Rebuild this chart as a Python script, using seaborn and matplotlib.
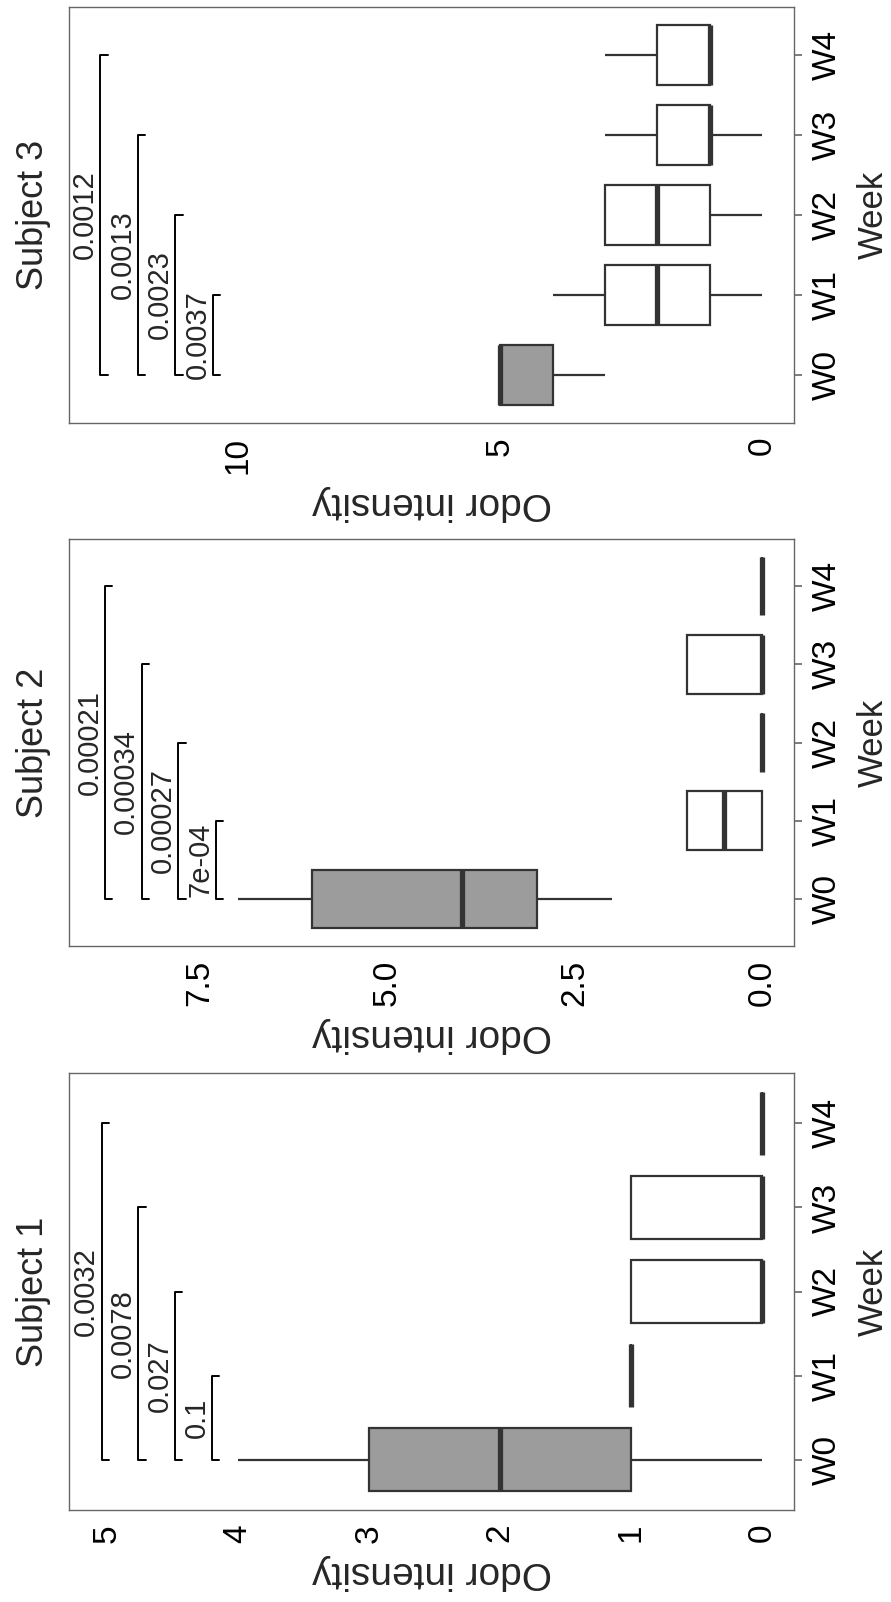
import pandas as pd
import numpy as np
import matplotlib
matplotlib.use('Agg')
import matplotlib.pyplot as plt
import seaborn as sns

# Odor intensity scores, 10 assessments per week and subject
weeks = ['W0', 'W1', 'W2', 'W3', 'W4']

s1_w0 = [0, 1, 1, 1, 2, 2, 3, 3, 3, 4]
s1_w1 = [1, 1, 1, 1, 1, 1, 1, 1, 1, 1]
s1_w2 = [0, 0, 0, 0, 0, 0, 1, 1, 1, 1]
s1_w3 = [0, 0, 0, 0, 0, 0, 1, 1, 1, 1]
s1_w4 = [0, 0, 0, 0, 0, 0, 0, 0, 0, 0]

s2_w0 = [2, 3, 3, 3, 4, 4, 6, 6, 6, 7]
s2_w1 = [0, 0, 0, 0, 0, 1, 1, 1, 1, 1]
s2_w2 = [0, 0, 0, 0, 0, 0, 0, 0, 0, 0]
s2_w3 = [0, 0, 0, 0, 0, 0, 1, 1, 1, 1]
s2_w4 = [0, 0, 0, 0, 0, 0, 0, 0, 0, 0]

s3_w0 = [3, 4, 4, 4, 5, 5, 5, 5, 5, 5]
s3_w1 = [0, 1, 1, 1, 2, 2, 3, 3, 3, 4]
s3_w2 = [0, 1, 1, 1, 2, 2, 3, 3, 3, 3]
s3_w3 = [0, 1, 1, 1, 1, 1, 2, 2, 2, 3]
s3_w4 = [1, 1, 1, 1, 1, 1, 2, 2, 2, 3]

# p-values W0 vs W1..W4 and the height of each bracket
s1_pvals = ['0.1', '0.027', '0.0078', '0.0032']
s2_pvals = ['7e-04', '0.00027', '0.00034', '0.00021']
s3_pvals = ['0.0037', '0.0023', '0.0013', '0.0012']
s1_levels = [4.2, 4.48, 4.76, 5.04]
s2_levels = [7.29, 7.79, 8.28, 8.77]
s3_levels = [10.48, 11.2, 11.91, 12.63]

s1_ticks, s1_ticklabels = [0, 1, 2, 3, 4, 5], ['0', '1', '2', '3', '4', '5']
s2_ticks, s2_ticklabels = [0, 2.5, 5, 7.5], ['0.0', '2.5', '5.0', '7.5']
s3_ticks, s3_ticklabels = [0, 5, 10], ['0', '5', '10']


def make_df(groups):
    rows = []
    for wk, vals in zip(weeks, groups):
        rows += [{'week': wk, 'intensity': v} for v in vals]
    return pd.DataFrame(rows)


panels = [
    dict(name='Subject 1', df=make_df([s1_w0, s1_w1, s1_w2, s1_w3, s1_w4]),
         pvals=s1_pvals, levels=s1_levels, ticks=s1_ticks, labels=s1_ticklabels,
         xlim=(5.29, -0.244), rect=[69/891, 1 - 1510/1602, 725/891, 437/1602]),
    dict(name='Subject 2', df=make_df([s2_w0, s2_w1, s2_w2, s2_w3, s2_w4]),
         pvals=s2_pvals, levels=s2_levels, ticks=s2_ticks, labels=s2_ticklabels,
         xlim=(9.25, -0.43), rect=[69/891, 1 - 946/1602, 725/891, 407/1602]),
    dict(name='Subject 3', df=make_df([s3_w0, s3_w1, s3_w2, s3_w3, s3_w4]),
         pvals=s3_pvals, levels=s3_levels, ticks=s3_ticks, labels=s3_ticklabels,
         xlim=(13.23, -0.61), rect=[69/891, 1 - 423/1602, 725/891, 416/1602]),
]

sns.set_style('white')
plt.rcParams['font.family'] = ['Liberation Sans', 'DejaVu Sans']

ink = '#333333'
fill = {'W0': '#9c9c9c', 'W1': 'white', 'W2': 'white', 'W3': 'white', 'W4': 'white'}

fig = plt.figure(figsize=(8.91, 16.02), dpi=100)

for p in panels:
    ax = fig.add_axes(p['rect'])
    sns.boxplot(data=p['df'], x='intensity', y='week', hue='week', order=weeks,
                hue_order=weeks, palette=fill, legend=False, orient='h', width=0.75,
                linecolor=ink, linewidth=1.6, showcaps=False, whis=1.5, fliersize=0,
                medianprops=dict(linewidth=3.8, color=ink), ax=ax)

    # significance brackets W0 vs Wk
    span = abs(p['xlim'][0] - p['xlim'][1])
    tl = 0.01 * span
    for k, (lvl, pv) in enumerate(zip(p['levels'], p['pvals']), start=1):
        ax.plot([lvl, lvl], [0, k], color='black', lw=1.4, solid_capstyle='butt')
        ax.plot([lvl, lvl - tl], [0, 0], color='black', lw=1.4)
        ax.plot([lvl, lvl - tl], [k, k], color='black', lw=1.4)
        ax.annotate(pv, xy=(lvl, k / 2), xytext=(-1, 0), textcoords='offset points',
                    rotation=90, ha='right', va='center', fontsize=21)

    ax.set_xlim(*p['xlim'])
    ax.set_ylim(-0.6, 4.6)
    ax.set_xticks(p['ticks'])
    ax.set_xticklabels(p['labels'], rotation=90)
    ax.yaxis.tick_right()
    ax.yaxis.set_label_position('right')
    ax.set_yticks(range(len(weeks)))
    ax.set_yticklabels(weeks, rotation=90, va='center')
    ax.tick_params(axis='both', length=6, width=1.2, color='#666666', pad=4,
                   labelsize=24, labelcolor='black')
    ax.tick_params(axis='y', pad=7)
    ax.set_xlabel('Odor intensity', rotation=180, fontsize=28, labelpad=8)
    ax.set_ylabel('Week', rotation=90, fontsize=25, labelpad=10)
    for s in ax.spines.values():
        s.set_color('#666666')
        s.set_linewidth(1.0)

    ax.annotate(p['name'], xy=(0, 0.5), xycoords='axes fraction', xytext=(-13, 0),
                textcoords='offset points', rotation=90, ha='right', va='center',
                fontsize=26)

fig.savefig('out.png', dpi=100)
